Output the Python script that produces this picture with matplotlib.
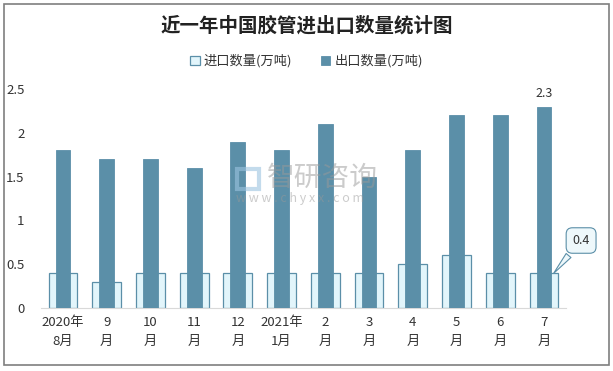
import matplotlib
matplotlib.use("Agg")
import matplotlib.pyplot as plt
import numpy as np
from matplotlib.patches import Rectangle

plt.rcParams['font.family'] = ['Noto Sans CJK SC', 'DejaVu Sans']

months = ['2020年\n8月', '9\n月', '10\n月', '11\n月', '12\n月', '2021年\n1月',
          '2\n月', '3\n月', '4\n月', '5\n月', '6\n月', '7\n月']
imports = [0.4, 0.3, 0.4, 0.4, 0.4, 0.4, 0.4, 0.4, 0.5, 0.6, 0.4, 0.4]
exports = [1.8, 1.7, 1.7, 1.6, 1.9, 1.8, 2.1, 1.5, 1.8, 2.2, 2.2, 2.3]

dark = '#5b8fa8'
light = '#e2f5fb'

fig = plt.figure(figsize=(6.13, 3.71), dpi=100)
fig.patches.append(Rectangle((0.007, 0.016), 0.986, 0.973, transform=fig.transFigure,
                             fill=False, edgecolor='#7f7f7f', linewidth=1.2))
ax = fig.add_axes([0.067, 0.17, 0.856, 0.59])

x = np.arange(len(months))
ax.bar(x, imports, width=0.66, color=light, edgecolor=dark, linewidth=0.9,
       label='进口数量(万吨)', zorder=2)
ax.bar(x, exports, width=0.34, color=dark, edgecolor=dark, linewidth=0.6,
       label='出口数量(万吨)', zorder=3)

ax.set_xlim(-0.5, len(months) - 0.5)
ax.set_ylim(0, 2.5)
ax.set_yticks([0, 0.5, 1, 1.5, 2, 2.5])
ax.set_yticklabels(['0', '0.5', '1', '1.5', '2', '2.5'])
ax.set_xticks(x)
ax.set_xticklabels(months, linespacing=1.6)
ax.tick_params(axis='both', length=0, labelsize=9.5, colors='#333333')
ax.tick_params(axis='x', pad=6)
ax.tick_params(axis='y', pad=12)
for s in ['top', 'right', 'left']:
    ax.spines[s].set_visible(False)
ax.spines['bottom'].set_color('#d9d9d9')

# labels on last month
ax.text(x[-1], exports[-1] + 0.07, '2.3', ha='center', va='bottom', fontsize=9,
        color='#333333')
ax.annotate('0.4', xy=(x[-1] + 0.18, imports[-1] - 0.03),
            xytext=(x[-1] + 0.85, imports[-1] + 0.37), ha='center', va='center',
            fontsize=9, color='#333333',
            bbox=dict(boxstyle='round,pad=0.5', fc='#eef8fb', ec=dark, lw=0.8),
            arrowprops=dict(arrowstyle='wedge,tail_width=0.5', fc='#eef8fb', ec=dark, lw=0.8),
            annotation_clip=False, zorder=5)

fig.legend(loc='center', bbox_to_anchor=(0.5, 0.835), ncol=2, frameon=False,
           fontsize=9.5, handlelength=0.7, handleheight=0.7, columnspacing=2.2,
           handletextpad=0.3, labelcolor='#333333')
fig.text(0.5, 0.93, '近一年中国胶管进出口数量统计图', ha='center', va='center',
         fontsize=14, fontweight='bold', color='#222222')

# watermark
fig.patches.append(Rectangle((0.387, 0.49), 0.036, 0.055, transform=fig.transFigure,
                             fill=False, edgecolor='#9cc3e0', linewidth=3, alpha=0.6,
                             zorder=10))
fig.text(0.435, 0.52, '智研咨询', ha='left', va='center', fontsize=20,
         color='#999999', alpha=0.5, zorder=10)
fig.text(0.385, 0.465, 'w w w . c h y x x . c o m', ha='left', va='center', fontsize=9,
         color='#999999', alpha=0.5, zorder=10)

fig.savefig('out.png', dpi=100)
